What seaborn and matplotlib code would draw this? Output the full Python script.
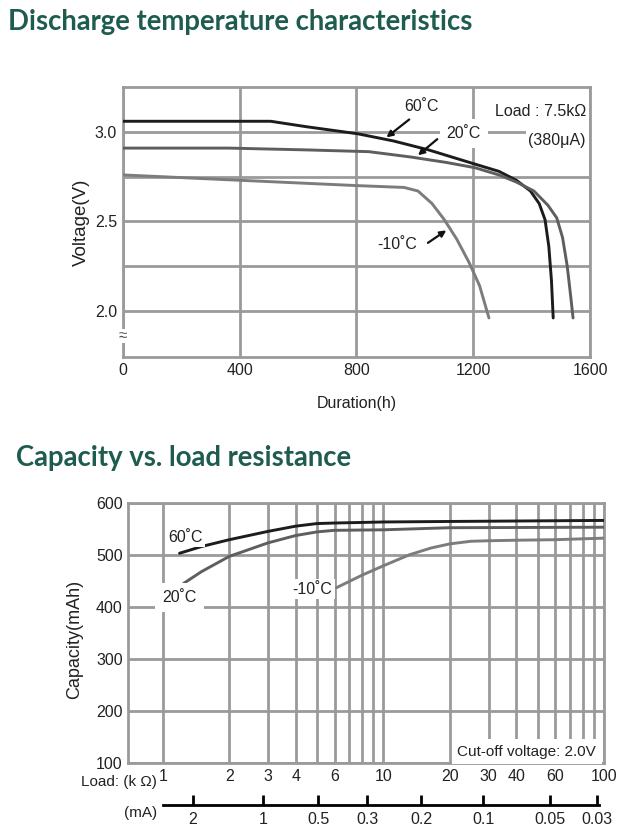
import numpy as np
import pandas as pd
import matplotlib.pyplot as plt
from matplotlib.ticker import FixedLocator, NullLocator, FixedFormatter
import seaborn as sns

# --- discharge temperature characteristics (load 7.5 kOhm) ---
dis_60_h = [0, 250, 507, 627, 805, 927, 1047, 1207, 1288, 1348, 1396, 1426, 1446, 1459, 1468, 1474]
dis_60_v = [3.06, 3.06, 3.06, 3.03, 2.99, 2.95, 2.90, 2.82, 2.78, 2.73, 2.67, 2.60, 2.51, 2.36, 2.17, 1.96]
dis_20_h = [0, 363, 627, 843, 987, 1107, 1207, 1288, 1348, 1408, 1456, 1486, 1506, 1522, 1534, 1542]
dis_20_v = [2.91, 2.91, 2.90, 2.89, 2.86, 2.83, 2.80, 2.76, 2.72, 2.67, 2.59, 2.52, 2.41, 2.25, 2.08, 1.96]
dis_m10_h = [0, 401, 805, 963, 1011, 1059, 1101, 1144, 1186, 1222, 1254]
dis_m10_v = [2.76, 2.73, 2.70, 2.69, 2.67, 2.60, 2.51, 2.40, 2.27, 2.14, 1.96]

# --- capacity vs load resistance (cut-off 2.0 V) ---
cap_60_r = [1.19, 1.5, 2, 3, 4, 5, 6, 10, 20, 100]
cap_60_c = [503, 516, 529, 545, 555, 560, 561, 563, 564, 566]
cap_20_r = [1.24, 1.5, 2, 3, 4, 5, 6, 10, 20, 100]
cap_20_c = [445, 468, 497, 523, 537, 544, 547, 548, 552, 553]
cap_m10_r = [6.13, 8, 10, 13.1, 16.4, 20, 24.9, 30, 40, 60, 100]
cap_m10_c = [437, 461, 479, 500, 513, 521, 526, 527, 528, 529, 532]

temps = ['60˚C', '20˚C', '-10˚C']
colors = ['#1c1c1c', '#5e5e5e', '#7c7c7c']

volt_ticks = [2.0, 2.25, 2.5, 2.75, 3.0]
volt_labels = ['2.0', '', '2.5', '', '3.0']
hour_ticks = [0, 400, 800, 1200, 1600]

load_grid = [1, 2, 3, 4, 5, 6, 7, 8, 9, 10, 20, 30, 40, 50, 60, 70, 80, 90, 100]
load_labels = ['1', '2', '3', '4', '', '6', '', '', '', '10', '20', '30', '40', '', '60', '', '', '', '100']
cap_ticks = [100, 200, 300, 400, 500, 600]
ma_labels = ['2', '1', '0.5', '0.3', '0.2', '0.1', '0.05', '0.03']
ma_pos_kohm = [1.37, 2.85, 5.07, 8.44, 14.8, 28.4, 57.0, 93.3]

dis = pd.DataFrame({
    'h': dis_60_h + dis_20_h + dis_m10_h,
    'v': dis_60_v + dis_20_v + dis_m10_v,
    't': [temps[0]] * len(dis_60_h) + [temps[1]] * len(dis_20_h) + [temps[2]] * len(dis_m10_h),
})
cap = pd.DataFrame({
    'r': cap_60_r + cap_20_r + cap_m10_r,
    'c': cap_60_c + cap_20_c + cap_m10_c,
    't': [temps[0]] * len(cap_60_r) + [temps[1]] * len(cap_20_r) + [temps[2]] * len(cap_m10_r),
})

sns.set_style('white')
plt.rcParams['font.family'] = ['Liberation Sans', 'DejaVu Sans']

GRID = '#9a9a9a'
TITLE = '#1e5c4f'
TXT = '#222222'
pal = dict(zip(temps, colors))
white_box = dict(facecolor='white', edgecolor='none', pad=2)

fig = plt.figure(figsize=(6.21, 8.38), dpi=100)

fig.text(8 / 621, 1 - 22 / 838, 'Discharge temperature characteristics', fontsize=19.8,
         fontweight='bold', color=TITLE, family=['Lato', 'DejaVu Sans'], va='center', ha='left')
fig.text(16 / 621, 1 - 458 / 838, 'Capacity vs. load resistance', fontsize=19.8,
         fontweight='bold', color=TITLE, family=['Lato', 'DejaVu Sans'], va='center', ha='left')

# ---------------- top chart ----------------
ax = fig.add_axes([122.7 / 621, 1 - 357.3 / 838, 467.3 / 621, 270 / 838])
sns.lineplot(data=dis, x='h', y='v', hue='t', palette=pal, sort=False, estimator=None,
             legend=False, lw=2.1, ax=ax, zorder=3)
ax.set_xlim(0, 1600)
ax.set_ylim(1.74, 3.25)
ax.set_xticks(hour_ticks)
ax.set_yticks(volt_ticks)
ax.set_yticklabels(volt_labels)
ax.grid(True, color=GRID, lw=2)
ax.set_axisbelow(True)
for s in ax.spines.values():
    s.set_color(GRID)
    s.set_linewidth(2)
ax.tick_params(length=0, labelsize=11.5, colors=TXT, pad=4)
ax.set_xlabel('Duration(h)', fontsize=11.5, color=TXT)
ax.set_ylabel('Voltage(V)', fontsize=13.5, color=TXT)
ax.xaxis.set_label_coords(0.5, -0.143)
ax.yaxis.set_label_coords(-0.070, 0.5)

lab_kw = dict(fontsize=11.5, color=TXT, ha='center', va='center', zorder=5)
ax.text(1023, 3.14, temps[0], **lab_kw)
ax.text(1168, 2.99, temps[1], bbox=dict(facecolor='white', edgecolor='none', pad=5), **lab_kw)
ax.text(939, 2.37, temps[2], **lab_kw)
ax.text(1586, 3.117, 'Load : 7.5kΩ', fontsize=11.5, color=TXT, ha='right', va='center',
        bbox=white_box, zorder=5)
ax.text(1586, 2.953, '(380μA)', fontsize=11.5, color=TXT, ha='right', va='center',
        bbox=white_box, zorder=5)
arrow = dict(arrowstyle='-|>', color='#111111', lw=1.6, mutation_scale=9, shrinkA=0, shrinkB=0)
ax.annotate('', xy=(903, 2.97), xytext=(981, 3.07), arrowprops=arrow, zorder=6)
ax.annotate('', xy=(1011, 2.87), xytext=(1077, 2.96), arrowprops=arrow, zorder=6)
ax.annotate('', xy=(1108, 2.45), xytext=(1045, 2.38), arrowprops=arrow, zorder=6)
ax.text(0, 1.857, '≈', fontsize=11, color='#555555', ha='center', va='center', clip_on=False,
        bbox=dict(facecolor='white', edgecolor='none', pad=0), zorder=6)

# ---------------- bottom chart ----------------
bx = fig.add_axes([128.3 / 621, 1 - 763.3 / 838, 475.7 / 621, 260.6 / 838])
sns.lineplot(data=cap, x='r', y='c', hue='t', palette=pal, sort=False, estimator=None,
             legend=False, lw=2.1, ax=bx, zorder=3)
bx.set_xscale('log')
bx.set_xlim(0.697, 100)
bx.set_ylim(100, 600)
bx.xaxis.set_major_locator(FixedLocator(load_grid))
bx.xaxis.set_major_formatter(FixedFormatter(load_labels))
bx.xaxis.set_minor_locator(NullLocator())
bx.set_yticks(cap_ticks)
bx.grid(True, color=GRID, lw=2)
bx.set_axisbelow(True)
for s in bx.spines.values():
    s.set_color(GRID)
    s.set_linewidth(2)
bx.tick_params(length=0, labelsize=11.5, colors=TXT, pad=4)
bx.set_xlabel('')
bx.set_ylabel('Capacity(mAh)', fontsize=13, color=TXT)
bx.yaxis.set_label_coords(-0.095, 0.477)

bx.text(1.26, 534, temps[0], bbox=white_box, **lab_kw)
bx.text(1.19, 418, temps[1], bbox=dict(facecolor='white', edgecolor='none', pad=5), **lab_kw)
bx.text(4.77, 434, temps[2], bbox=white_box, **lab_kw)
bx.text(92, 122, 'Cut-off voltage: 2.0V', fontsize=11, color=TXT, ha='right',
        va='center', bbox=dict(facecolor='white', edgecolor='none', pad=4), zorder=5)

# current scale under the load axis
mx = fig.add_axes([128.3 / 621, 1 - 805 / 838, 475.7 / 621, 0.01])
mx.set_xscale('log')
mx.set_xlim(0.697, 100)
mx.patch.set_alpha(0)
for k in ['top', 'left', 'right']:
    mx.spines[k].set_visible(False)
mx.spines['bottom'].set_color('black')
mx.spines['bottom'].set_linewidth(2)
mx.spines['bottom'].set_bounds(1, 95)
mx.xaxis.set_major_locator(FixedLocator(ma_pos_kohm))
mx.xaxis.set_major_formatter(FixedFormatter(ma_labels))
mx.xaxis.set_minor_locator(NullLocator())
mx.set_yticks([])
mx.tick_params(axis='x', bottom=True, direction='in', length=7, width=2, color='black',
               labelsize=11.5, labelcolor=TXT, pad=5)

fig.text(157 / 621, 1 - 782 / 838, 'Load: (k Ω)', fontsize=11, color=TXT, ha='right', va='center')
fig.text(157 / 621, 1 - 813 / 838, '(mA)', fontsize=11, color=TXT, ha='right', va='center')

fig.savefig('out.png', dpi=100)
